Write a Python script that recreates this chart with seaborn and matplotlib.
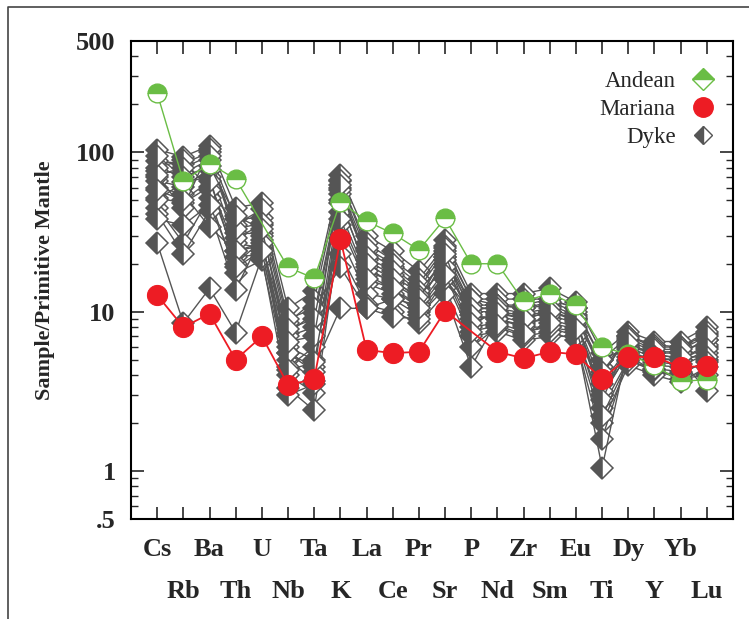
import numpy as np
import pandas as pd
import matplotlib
matplotlib.use('Agg')
import matplotlib.pyplot as plt
from matplotlib.lines import Line2D
from matplotlib.ticker import LogLocator, NullFormatter
import seaborn as sns

# element order on the spider diagram
elements = ['Cs', 'Rb', 'Ba', 'Th', 'U', 'Nb', 'Ta', 'K', 'La', 'Ce', 'Pr',
            'Sr', 'P', 'Nd', 'Zr', 'Sm', 'Eu', 'Ti', 'Dy', 'Y', 'Yb', 'Lu']

# reference averages (nan = not plotted)
andean = [235, 66, 85, 68, np.nan, 19, 16.2, 49, 37, 31, 24.4,
          38.5, 20, 20, 11.6, 13, 11, 6.0, 5.4, 4.6, 3.65, 3.75]
mariana = [12.7, 8.0, 9.7, 5.0, 7.0, 3.47, 3.77, 28.5, 5.75, 5.5, 5.6,
           10.1, np.nan, 5.6, 5.1, 5.6, 5.4, 3.77, 5.2, 5.2, 4.5, 4.55]

# dyke samples
dyke_1 = [104, 94, 110, 45, 48, 10.5, 13.5, 72, 30, 24, 18, 28, 13, 13, 13, 14, 11.5, 5.5, 7.5, 6.5, 6.5, 8.0]
dyke_2 = [88, 85, 100, 38, 39, 8.5, 11.8, 66, 27, 21, 16, 26, 12, 12, 12, 12, 10.5, 5.0, 7.0, 6.2, 6.0, 7.2]
dyke_3 = [76, 74, 90, 31, 31, 7.3, 9.8, 60, 24, 19, 14, 24, 11, 11, 10.5, 11, 9.5, 4.5, 6.6, 5.6, 5.6, 6.6]
dyke_4 = [66, 61, 78, 27, 25, 6.0, 5.0, 55, 21, 17, 13, 22, 10, 10, 9.5, 10, 9.0, 3.5, 6.0, 5.1, 5.0, 6.0]
dyke_5 = [52, 48, 61, 22, 23, 5.0, 3.7, 48, 19, 15, 12, 20, 9.0, 9.5, 8.5, 9.0, 8.0, 3.0, 5.5, 4.6, 4.5, 5.5]
dyke_6 = [45, 27, 52, 17.4, 21, 4.0, 3.1, 42, 17, 14, 11, 18, 8.0, 8.5, 7.5, 8.0, 7.5, 2.5, 5.0, 4.2, 4.0, 5.0]
dyke_7 = [41, 23, 43, 13.7, 30, 3.3, 2.4, 35, 15, 13, 10, 16, 7.0, 7.5, 6.6, 7.0, 7.0, 2.0, 4.6, 4.0, 3.6, 4.5]
dyke_8 = [27, 8.5, 14, 7.4, 22, 3.0, 3.5, 29, 13, 12, 9.5, 14, 6.0, 8.0, 7.0, 7.5, 6.6, 1.6, 5.2, 4.3, 3.8, 4.0]
dyke_9 = [60, 55, 34, 24, 26, 7.0, 8.0, 23, 11, 10, 8.5, 13, 4.5, 9.0, 8.0, 8.0, 7.0, 1.05, 6.2, 5.5, 5.0, 3.2]
dyke_10 = [80, 90, 58, 35, 44, 9.0, 10.5, 19, 10.5, 9.3, 9.0, 16, 10, 11, 11, 12, 10.5, 4.0, 7.0, 6.0, 6.0, 7.5]
dyke_11 = [70, 45, 105, 29, 35, 5.5, 4.5, 10.5, 10.5, 12, 11, 22, 11, 10, 9.0, 10, 9.0, 3.0, 5.5, 5.0, 5.0, 6.2]
dyke_12 = [50, 65, 70, 20, 28, 4.5, 6.0, 67, 25, 20, 15, 25, 12, 11, 10.5, 11.5, 10, 5.0, 6.0, 5.5, 5.5, 6.6]
dyke_13 = [72, 80, 95, 33, 36, 7.8, 9.0, 58, 22, 18, 13.5, 21, 10.5, 10.5, 9.8, 10.5, 9.2, 4.2, 6.8, 5.8, 5.8, 7.0]
dyke_14 = [58, 50, 66, 24, 27, 5.5, 4.2, 50, 18, 15.5, 12.5, 19, 9.5, 9.0, 8.2, 9.5, 8.5, 3.2, 5.8, 4.8, 4.7, 5.8]
dyke_15 = [95, 70, 82, 40, 33, 6.5, 7.0, 62, 20, 16, 12, 23, 8.5, 9.8, 9.0, 10, 8.8, 2.8, 6.4, 5.3, 5.2, 5.2]
dyke_16 = [38, 35, 47, 19, 24, 4.3, 4.8, 38, 16, 14, 10.5, 17, 7.5, 8.2, 7.2, 8.5, 7.8, 2.2, 4.9, 4.4, 4.2, 4.8]
dykes = [dyke_1, dyke_2, dyke_3, dyke_4, dyke_5, dyke_6, dyke_7, dyke_8,
         dyke_9, dyke_10, dyke_11, dyke_12, dyke_13, dyke_14, dyke_15, dyke_16]

green = '#6abd45'
red = '#ed1c24'
gray = '#555555'

sns.set_style('ticks')
plt.rcParams['font.family'] = ['Liberation Serif', 'DejaVu Serif']
plt.rcParams['font.weight'] = 'bold'

pos = {e: i for i, e in enumerate(elements)}

rows = []
for k, d in enumerate(dykes):
    for e, v in zip(elements, d):
        rows.append({'sample': k, 'element': e, 'value': v})
df_dyke = pd.DataFrame(rows)
df_dyke['x'] = df_dyke['element'].map(pos)

df_and = pd.DataFrame({'element': elements, 'value': andean}).dropna()
df_and['x'] = df_and['element'].map(pos)
df_mar = pd.DataFrame({'element': elements, 'value': mariana}).dropna()
df_mar['x'] = df_mar['element'].map(pos)

fig = plt.figure(figsize=(7.49, 6.19), dpi=100)
ax = fig.add_axes([131 / 749, 1 - 519 / 619, 602 / 749, 478 / 619])

sns.lineplot(data=df_dyke, x='x', y='value', units='sample', estimator=None,
             sort=False, color=gray, lw=1.0, marker='D', ms=11,
             fillstyle='left', markerfacecolor=gray, markerfacecoloralt='white',
             markeredgecolor=gray, markeredgewidth=1.1, ax=ax, legend=False)
sns.lineplot(data=df_and, x='x', y='value', sort=False, color=green, lw=1.0,
             marker='o', ms=13.5, fillstyle='top', markerfacecolor=green,
             markerfacecoloralt='white', markeredgecolor=green,
             markeredgewidth=1.0, ax=ax, legend=False)
sns.lineplot(data=df_mar, x='x', y='value', sort=False, color=red, lw=1.3,
             marker='o', ms=14.5, markerfacecolor=red, markeredgecolor=red,
             ax=ax, legend=False)

ax.set_yscale('log')
ax.set_ylim(0.5, 500)
ax.set_xlim(-1, 22)
ax.set_yticks([0.5, 1, 10, 100, 500], ['.5', '1', '10', '100', '500'])
ax.yaxis.set_minor_locator(LogLocator(base=10, subs=np.arange(2, 10)))
ax.yaxis.set_minor_formatter(NullFormatter())

ax.set_xticks(range(0, len(elements), 2), elements[0::2])
ax.set_xticks(range(1, len(elements), 2), elements[1::2], minor=True)

ax.tick_params(axis='x', which='both', direction='in', length=9, width=1.2,
               top=True, bottom=True, labelsize=19)
ax.tick_params(axis='x', which='major', pad=14)
ax.tick_params(axis='x', which='minor', pad=44)
ax.tick_params(axis='y', which='major', direction='in', length=9.5, width=1.2,
               left=True, right=True, labelsize=19, pad=11)
ax.tick_params(axis='y', which='minor', direction='in', length=5, width=1.0,
               left=True, right=True)
for s in ax.spines.values():
    s.set_linewidth(1.5)
    s.set_color('black')

ax.set_xlabel('')
ax.set_ylabel('')
fig.text(45 / 749, 1 - 280 / 619, 'Sample/Primitive Mantle', rotation=90,
         ha='center', va='center', fontsize=16, fontweight='bold')

handles = [
    Line2D([], [], ls='none', marker='D', ms=11, fillstyle='top',
           markerfacecolor=green, markerfacecoloralt='white', markeredgecolor=green),
    Line2D([], [], ls='none', marker='o', ms=14, color=red),
    Line2D([], [], ls='none', marker='D', ms=9, fillstyle='left',
           markerfacecolor=gray, markerfacecoloralt='white', markeredgecolor=gray),
]
ax.legend(handles, ['Andean', 'Mariana', 'Dyke'], loc='upper right',
          bbox_to_anchor=(1.0, 0.97), frameon=False, markerfirst=False,
          prop={'family': 'Liberation Serif', 'weight': 'normal', 'size': 16.5},
          labelspacing=0.3, handletextpad=0.6, handlelength=1.2,
          borderaxespad=0.3)

# thin border around the figure (top and left)
fig.add_artist(Line2D([8 / 749, 8 / 749, 1], [0, 1 - 7 / 619, 1 - 7 / 619],
                      transform=fig.transFigure, color='#444444', lw=1.2))

fig.savefig('out.png', dpi=100)
